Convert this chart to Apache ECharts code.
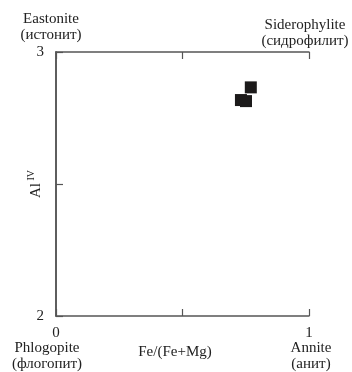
<!DOCTYPE html>
<html>
<head>
<meta charset="utf-8">
<script src="https://cdn.jsdelivr.net/npm/echarts@6/dist/echarts.min.js"></script>
<style>
  html, body { margin: 0; padding: 0; background: #fff; }
  #chart { width: 352px; height: 372px; }
</style>
</head>
<body>
<div id="chart"></div>
<script>
// Fe/(Fe+Mg) vs Al(IV) for the biotite points
const feRatio = [0.770, 0.731, 0.751];
const alIV = [2.866, 2.818, 2.814];
const xTickLabels = { 0: '0', 1: '1' };
const yTickLabels = { 2: '2', 3: '3' };

const font = 'Liberation Serif';
const axisColor = '#555';
const textColor = '#222';

const chart = echarts.init(document.getElementById('chart'));

function label(x, y, lines) {
    return {
        type: 'text',
        x: x, y: y,
        style: {
            text: lines.join('\n'),
            font: '15px "' + font + '"',
            fill: textColor,
            align: 'center',
            verticalAlign: 'middle',
            lineHeight: 16
        }
    };
}

const option = {
    animation: false,
    textStyle: { fontFamily: font },
    grid: { left: 56, right: 43, top: 52, bottom: 56 },
    xAxis: [
        {
            type: 'value', min: 0, max: 1, interval: 0.5,
            axisLine: { lineStyle: { color: axisColor, width: 1.5 } },
            axisTick: { inside: true, length: 7, lineStyle: { color: axisColor, width: 1.2 } },
            axisLabel: {
                margin: 10, fontSize: 15, color: textColor, fontFamily: font,
                formatter: v => xTickLabels[v] || ''
            },
            splitLine: { show: false }
        },
        {
            type: 'value', position: 'top', min: 0, max: 1, interval: 0.5,
            axisLine: { lineStyle: { color: axisColor, width: 1.5 } },
            axisTick: { inside: true, length: 7, lineStyle: { color: axisColor, width: 1.2 } },
            axisLabel: { show: false },
            splitLine: { show: false }
        }
    ],
    yAxis: [
        {
            type: 'value', min: 2, max: 3, interval: 0.5,
            name: '{a|Al}{s| IV}',
            nameLocation: 'middle', nameRotate: 90, nameGap: 12,
            nameMoveOverlap: false,
            nameTextStyle: {
                rich: {
                    a: { fontSize: 15, fontFamily: font, color: textColor, verticalAlign: 'bottom', lineHeight: 18 },
                    s: { fontSize: 10, fontFamily: font, color: textColor, verticalAlign: 'top', lineHeight: 18 }
                }
            },
            axisLine: { lineStyle: { color: axisColor, width: 1.5 } },
            axisTick: { inside: true, length: 7, lineStyle: { color: axisColor, width: 1.2 } },
            axisLabel: {
                margin: 12, fontSize: 15, color: textColor, fontFamily: font,
                formatter: v => yTickLabels[v] || ''
            },
            splitLine: { show: false }
        },
        {
            type: 'value', position: 'right', min: 2, max: 3, interval: 0.5,
            axisLine: { show: true, lineStyle: { color: axisColor, width: 1.5 } },
            axisTick: { show: false },
            axisLabel: { show: false },
            splitLine: { show: false }
        }
    ],
    graphic: [
        label(51, 27, ['Eastonite', '(истонит)']),
        label(305, 33, ['Siderophylite', '(сидрофилит)']),
        label(47, 356, ['Phlogopite', '(флогопит)']),
        label(311, 356, ['Annite', '(анит)']),
        label(175, 352, ['Fe/(Fe+Mg)'])
    ],
    series: [
        {
            type: 'scatter',
            symbol: 'rect',
            symbolSize: 12,
            itemStyle: { color: '#1c1a1a', opacity: 1 },
            data: feRatio.map((v, i) => [v, alIV[i]])
        }
    ]
};

chart.setOption(option);
</script>
</body>
</html>
